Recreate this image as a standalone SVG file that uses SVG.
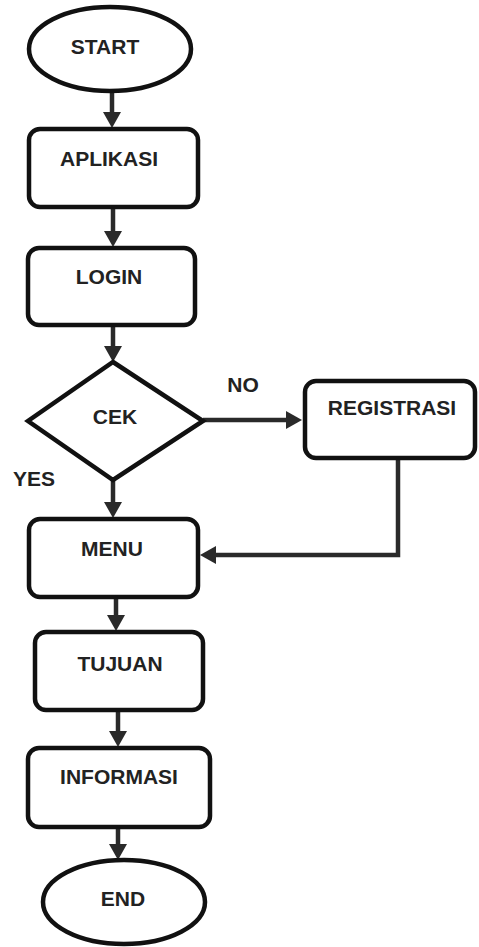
<svg xmlns="http://www.w3.org/2000/svg" width="479" height="947" viewBox="0 0 479 947">
<defs>
<style>
.shape{fill:#fff;stroke:#111;stroke-width:4.5}
.lbl{font-family:"Liberation Sans",Arial,sans-serif;font-weight:bold;font-size:21px;fill:#222;text-anchor:middle}
.conn{fill:none;stroke:#2a2a2a;stroke-width:4.5}
</style>
<marker id="ah" viewBox="0 0 16 18" markerWidth="16" markerHeight="18" refX="8" refY="9" orient="auto" markerUnits="userSpaceOnUse">
<path d="M0,0 L16,9 L0,18 z" fill="#2a2a2a"/>
</marker>
</defs>
<rect width="479" height="947" fill="#fff"/>
<g id="connectors">
<line class="conn" x1="112" y1="92" x2="112" y2="120" marker-end="url(#ah)"/>
<line class="conn" x1="113" y1="207" x2="113" y2="239" marker-end="url(#ah)"/>
<line class="conn" x1="113" y1="325" x2="113" y2="354" marker-end="url(#ah)"/>
<line class="conn" x1="203" y1="420" x2="294" y2="420" marker-end="url(#ah)"/>
<line class="conn" x1="113" y1="480" x2="113" y2="510" marker-end="url(#ah)"/>
<polyline class="conn" points="398,458 398,555 208,555" marker-end="url(#ah)"/>
<line class="conn" x1="116" y1="597" x2="116" y2="623" marker-end="url(#ah)"/>
<line class="conn" x1="118" y1="710" x2="118" y2="739" marker-end="url(#ah)"/>
<line class="conn" x1="118" y1="827" x2="118" y2="852" marker-end="url(#ah)"/>
<text class="lbl" x="243" y="392">NO</text>
<text class="lbl" x="34" y="486">YES</text>
</g>
<g id="start">
<ellipse class="shape" cx="110" cy="49" rx="81" ry="42"/>
<text class="lbl" x="105" y="54">START</text>
</g>
<g id="aplikasi">
<rect class="shape" x="29" y="129" width="169" height="78" rx="11"/>
<text class="lbl" x="109" y="166">APLIKASI</text>
</g>
<g id="login">
<rect class="shape" x="28" y="248" width="167" height="77" rx="11"/>
<text class="lbl" x="109" y="284">LOGIN</text>
</g>
<g id="cek">
<polygon class="shape" points="113,362 203,421 113,480 28,421"/>
<text class="lbl" x="115" y="424">CEK</text>
</g>
<g id="registrasi">
<rect class="shape" x="305" y="381" width="170" height="77" rx="11"/>
<text class="lbl" x="392" y="415">REGISTRASI</text>
</g>
<g id="menu">
<rect class="shape" x="29" y="519" width="169" height="78" rx="11"/>
<text class="lbl" x="112" y="556">MENU</text>
</g>
<g id="tujuan">
<rect class="shape" x="35" y="632" width="168" height="78" rx="11"/>
<text class="lbl" x="120" y="671">TUJUAN</text>
</g>
<g id="informasi">
<rect class="shape" x="28" y="748" width="182" height="79" rx="11"/>
<text class="lbl" x="119" y="784">INFORMASI</text>
</g>
<g id="end">
<ellipse class="shape" cx="124" cy="902" rx="81" ry="42"/>
<text class="lbl" x="123" y="906">END</text>
</g>
</svg>
